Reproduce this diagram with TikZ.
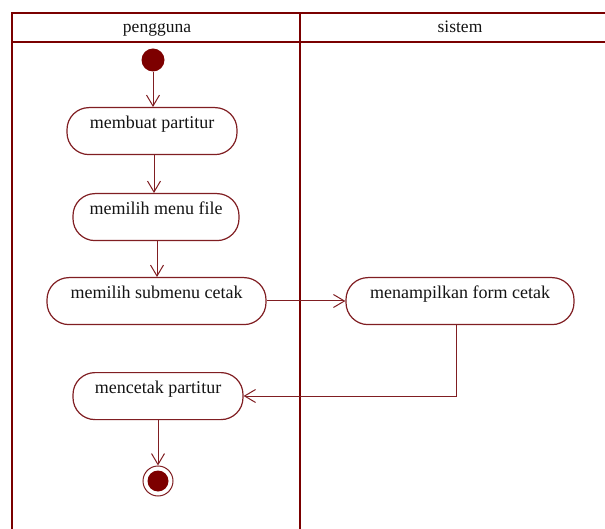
\documentclass[tikz,border=0pt]{standalone}
\usepackage{fontspec}
\setmainfont{Liberation Serif}
\usetikzlibrary{arrows.meta}

\definecolor{lanered}{RGB}{122,0,0}
\definecolor{edgered}{RGB}{128,30,34}
\definecolor{dotred}{RGB}{125,0,0}
\definecolor{inkdark}{RGB}{20,20,20}

\tikzset{
  lane/.style={draw=lanered, line width=2.8pt},
  laneline/.style={draw=lanered, line width=2.4pt},
  lanetitle/.style={anchor=base, font=\fontsize{17.5}{20}\selectfont, text=inkdark},
  action/.style={draw=edgered, line width=1.2pt, rounded corners=22pt,
    fill=white, anchor=north, inner xsep=0pt, inner ysep=0pt,
    text height=21pt, text depth=26pt,
    font=\fontsize{18}{20}\selectfont, text=inkdark},
  startdot/.style={circle, fill=dotred, draw=none, minimum size=23pt, inner sep=0pt},
  enddot/.style={circle, draw=edgered, line width=1pt, minimum size=30pt, inner sep=0pt,
    path picture={\fill[dotred] (path picture bounding box.center) circle (10.5pt);}},
  flow/.style={draw=edgered, line width=1pt,
    -{Straight Barb[length=11pt, width=13pt, line width=1pt]}},
}

\begin{document}
\begin{tikzpicture}[x=1pt, y=-1pt]
  \useasboundingbox (0,0) rectangle (605,529);

  % swimlane frame
  \draw[lane] (12,529) -- (12,13) -- (605,13);
  \draw[laneline] (12,42) -- (605,42);
  \draw[lane] (300,13) -- (300,529);
  \node[lanetitle] (hpengguna) at (157,33) {pengguna};
  \node[lanetitle] (hsistem) at (460,33) {sistem};

  % activities
  \node[startdot] (start) at (153,60) {};
  \node[action, minimum width=170pt] (n1) at (152,107) {membuat partitur};
  \node[action, minimum width=166pt] (n2) at (156,193) {memilih menu file};
  \node[action, minimum width=219pt] (n3) at (156.5,277) {memilih submenu cetak};
  \node[action, minimum width=228pt] (n4) at (460,277) {menampilkan form cetak};
  \node[action, minimum width=170pt] (n5) at (158,372) {mencetak partitur};
  \node[enddot] (stop) at (158,481) {};

  % control flow
  \coordinate (c1) at (154,0);
  \coordinate (c2) at (157,0);
  \coordinate (c3) at (0,301);
  \coordinate (c4) at (456,396);
  \draw[flow] (start) -- (start |- n1.north);
  \draw[flow] (c1 |- n1.south) -- (c1 |- n2.north);
  \draw[flow] (c2 |- n2.south) -- (c2 |- n3.north);
  \draw[flow] (n3.east |- c3) -- (n4.west |- c3);
  \draw[flow] (c4 |- n4.south) -- (c4) -- (n5.east |- c4);
  \draw[flow] (n5.south -| stop) -- (stop.north);
\end{tikzpicture}
\end{document}
